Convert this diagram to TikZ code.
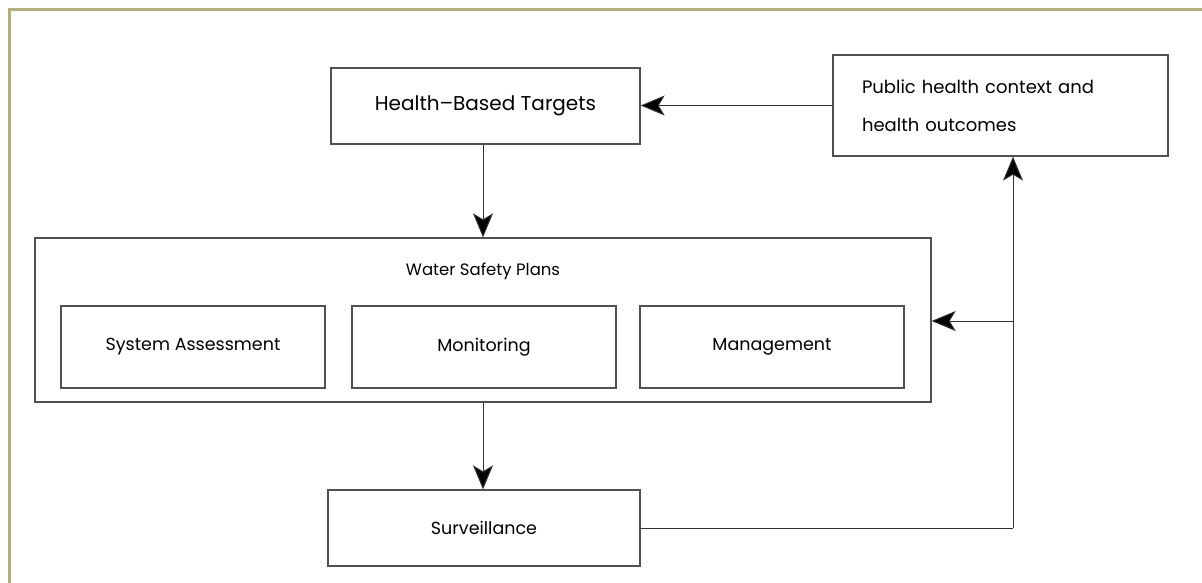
\documentclass[tikz,border=0pt]{standalone}
\usepackage{fontspec}
\setmainfont{Poppins}
\usetikzlibrary{arrows.meta}
\definecolor{frame}{HTML}{B5AE78}
\definecolor{boxline}{HTML}{505050}
\definecolor{conline}{HTML}{303030}
\tikzset{
  box/.style={draw=boxline, line width=1.3pt, rectangle, inner sep=0pt, font=\fontsize{17.5}{21}\selectfont},
  con/.style={draw=conline, line width=1pt},
  arr/.style={con, -{Stealth[length=24pt, width=20pt, inset=6pt, fill=black]}},
}
\begin{document}
\begin{tikzpicture}[x=1pt, y=-1pt]
\useasboundingbox (0,0) rectangle (1202,583);
% frame
\draw[frame, line width=3pt] (9.5,583) -- (9.5,9.5) -- (1202,9.5);
% nodes
\node[box, minimum width=309pt, minimum height=76pt, font=\fontsize{20}{24}\selectfont] (hbt) at (485.5,106) {Health–Based Targets};
\node[box, minimum width=335pt, minimum height=101pt, align=left, text width=277pt, inner xsep=29pt, font=\fontsize{18}{22}\selectfont] (ph) at (1000.5,105.5)
  {Public health context and\\[16pt] health outcomes};
\node[box, minimum width=896pt, minimum height=164pt] (wsp) at (483,320) {};
\node[font=\fontsize{16.5}{20}\selectfont, inner sep=0pt] (wsptitle) at (483,271) {Water Safety Plans};
\node[box, minimum width=264pt, minimum height=82pt] (sa) at (193,347) {System Assessment};
\node[box, minimum width=264pt, minimum height=82pt] (mon) at (484,347) {Monitoring};
\node[box, minimum width=264pt, minimum height=82pt] (mgmt) at (772,347) {Management};
\node[box, minimum width=312pt, minimum height=76pt] (surv) at (484,528) {Surveillance};
\coordinate (corner) at (1013,528);
\coordinate (junc) at (1013,321);
% connectors
\draw[arr] (ph.west) -- (ph.west -| hbt.east);
\draw[arr] (wsp.north |- hbt.south) -- (wsp.north);
\draw[arr] (wsp.south) -- (surv.north -| wsp.south);
\draw[con] (surv.east) -- (corner);
\draw[arr] (corner) -- (corner |- ph.south);
\draw[arr] (junc) -- (junc -| wsp.east);
\end{tikzpicture}
\end{document}
